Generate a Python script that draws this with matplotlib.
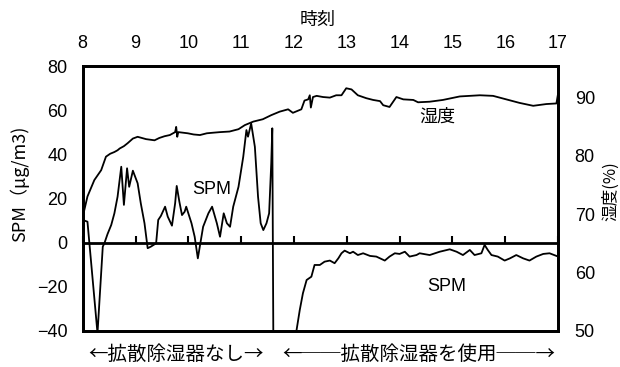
import matplotlib
matplotlib.use('Agg')
import matplotlib.pyplot as plt

# 時刻 (h) と 湿度 (%)
hum_t = [8.00, 8.09, 8.22, 8.35, 8.44, 8.52, 8.60, 8.66, 8.70, 8.78, 8.85, 8.95,
         9.04, 9.20, 9.36, 9.45, 9.55, 9.65, 9.75, 9.77, 9.79, 9.81, 9.99, 10.10,
         10.22, 10.35, 10.47, 10.60, 10.78, 10.95, 11.07, 11.23, 11.41, 11.57,
         11.73, 11.89, 11.98, 12.14, 12.20, 12.27, 12.30, 12.32, 12.36, 12.43,
         12.55, 12.68, 12.80, 12.90, 12.99, 13.09, 13.21, 13.37, 13.50, 13.63,
         13.69, 13.81, 13.94, 14.07, 14.26, 14.35, 14.57, 14.82, 15.14, 15.52,
         15.77, 16.02, 16.27, 16.53, 16.78, 16.97, 17.00]
hum_v = [69.5, 73.0, 75.8, 77.5, 79.8, 80.3, 80.6, 80.9, 81.2, 81.6, 82.1, 82.9,
         83.2, 82.8, 82.6, 83.0, 83.3, 83.5, 84.0, 84.9, 83.2, 84.0, 83.8, 83.6,
         83.5, 83.8, 83.9, 84.0, 84.1, 84.5, 85.2, 85.8, 86.2, 86.9,
         87.5, 87.9, 87.3, 87.9, 89.4, 89.6, 90.3, 88.2, 90.0, 90.2,
         90.0, 89.9, 90.3, 90.3, 91.5, 91.3, 90.3, 89.8, 89.5, 89.3,
         88.6, 88.3, 90.0, 89.6, 89.5, 89.1, 89.2, 89.5, 90.1, 90.3,
         90.2, 89.6, 89.0, 88.5, 88.8, 88.9, 90.5]

# 時刻 (h) と SPM (μg/m3)
spm_t = [8.00, 8.09, 8.28, 8.38, 8.41, 8.47, 8.54, 8.60, 8.66, 8.73, 8.78, 8.84,
         8.88, 8.95, 9.04, 9.10, 9.17, 9.23, 9.29, 9.39, 9.43, 9.48, 9.56, 9.61,
         9.69, 9.75, 9.78, 9.83, 9.88, 9.93, 9.96, 10.06, 10.12, 10.18, 10.28,
         10.38, 10.45, 10.54, 10.60, 10.67, 10.73, 10.79, 10.85, 10.95, 11.04,
         11.10, 11.13, 11.19, 11.26, 11.32, 11.37, 11.42, 11.48, 11.53, 11.57,
         11.59, 11.61, 12.04, 12.05, 12.11, 12.17, 12.24, 12.33, 12.39, 12.49,
         12.58, 12.68, 12.77, 12.84, 12.90, 12.96, 13.06, 13.12, 13.21, 13.31,
         13.44, 13.56, 13.72, 13.81, 13.91, 14.00, 14.10, 14.19, 14.32, 14.38,
         14.57, 14.76, 14.95, 15.08, 15.20, 15.33, 15.42, 15.55, 15.61, 15.67,
         15.74, 15.86, 15.99, 16.09, 16.21, 16.34, 16.46, 16.59, 16.72, 16.84,
         16.97]
spm_v = [10.3, 9.5, -41.0, -1.8, -0.3, 3.9, 8.0, 13.3, 20.8, 34.4, 17.1, 33.7,
         25.3, 32.6, 26.9, 17.8, 8.8, -2.5, -1.8, -0.3, 10.3, 12.1, 16.3, 11.8,
         7.7, 17.8, 25.7, 18.6, 12.5, 14.0, 16.3, 8.8, 2.7, -7.1, 7.2,
         13.3, 16.3, 8.8, 2.7, 13.3, 8.8, 7.2, 16.3, 25.3, 38.9,
         51.0, 48.0, 54.0, 43.4, 20.8, 8.8, 5.7, 8.8, 13.3, 35.9,
         51.8, -45.0, -45.0, -39.5, -30.5, -22.9, -16.9, -15.4, -10.1, -10.1,
         -8.6, -8.1, -9.3, -7.1, -4.8, -3.6, -4.8, -4.1, -5.6, -4.8,
         -6.0, -6.3, -8.1, -6.3, -4.8, -5.1, -4.1, -6.3, -5.6, -4.8,
         -5.6, -4.1, -3.0, -4.1, -5.6, -3.3, -5.6, -4.8, -1.0, -3.3,
         -5.6, -6.3, -8.1, -7.1, -5.6, -7.1, -8.1, -6.3, -5.1, -4.8,
         -6.0]

hours = list(range(8, 18))
spm_ticks = [-40, -20, 0, 20, 40, 60, 80]
hum_ticks = [50, 60, 70, 80, 90]

jp = ['Noto Sans CJK JP', 'DejaVu Sans']
num = ['Liberation Sans', 'DejaVu Sans']

fig = plt.figure(figsize=(6.2, 3.67), dpi=100)
ax = fig.add_axes([0.1334, 0.0981, 0.7666, 0.722])

ax.plot(spm_t, spm_v, color='black', lw=1.3)
ax.set_xlim(8, 17)
ax.set_ylim(-40, 80)
ax.xaxis.tick_top()
ax.set_xticks(hours)
ax.set_xticklabels([str(h) for h in hours], family=num, fontsize=13)
ax.set_yticks(spm_ticks)
ax.set_yticklabels([f'{v}'.replace('-', '\u2212') for v in spm_ticks], family=num, fontsize=13)
ax.tick_params(axis='both', length=0)
ax.tick_params(axis='x', pad=10)
ax.tick_params(axis='y', pad=11)
for s in ax.spines.values():
    s.set_linewidth(2)

# 0 の位置の横軸 (上向きの目盛)
zero = ax.secondary_xaxis((0 + 40) / 120)
zero.set_xticks(hours)
zero.tick_params(direction='in', length=5, width=1.5, labelbottom=False)
zero.spines['bottom'].set_linewidth(2)

ax2 = ax.twinx()
ax2.plot(hum_t, hum_v, color='black', lw=1.3)
ax2.set_ylim(50, 95.3)
ax2.set_yticks(hum_ticks)
ax2.set_yticklabels([str(v) for v in hum_ticks], family=num, fontsize=13)
ax2.tick_params(axis='y', length=0, pad=12)
for s in ax2.spines.values():
    s.set_linewidth(2)

fig.text(0.513, 0.945, '時刻', family=jp, fontsize=13, ha='center', va='center')
fig.text(0.032, 0.50, 'SPM（μg/m3)', family=jp, fontsize=13, rotation=90,
         ha='center', va='center')
fig.text(0.985, 0.48, '湿度(%)', family=jp, fontsize=12, rotation=90,
         ha='center', va='center')

ax.text(10.44, 24, 'SPM', family=num, fontsize=13, ha='center', va='center')
ax.text(14.89, -20, 'SPM', family=num, fontsize=13, ha='center', va='center')
ax.text(14.72, 57, '湿度', family=jp, fontsize=13, ha='center', va='center')

fig.text(0.284, 0.035, '←拡散除湿器なし→', family=jp, fontsize=14,
         ha='center', va='center')
fig.text(0.675, 0.035, '←──拡散除湿器を使用──→', family=jp, fontsize=14,
         ha='center', va='center')

fig.savefig('out.png', dpi=100)
